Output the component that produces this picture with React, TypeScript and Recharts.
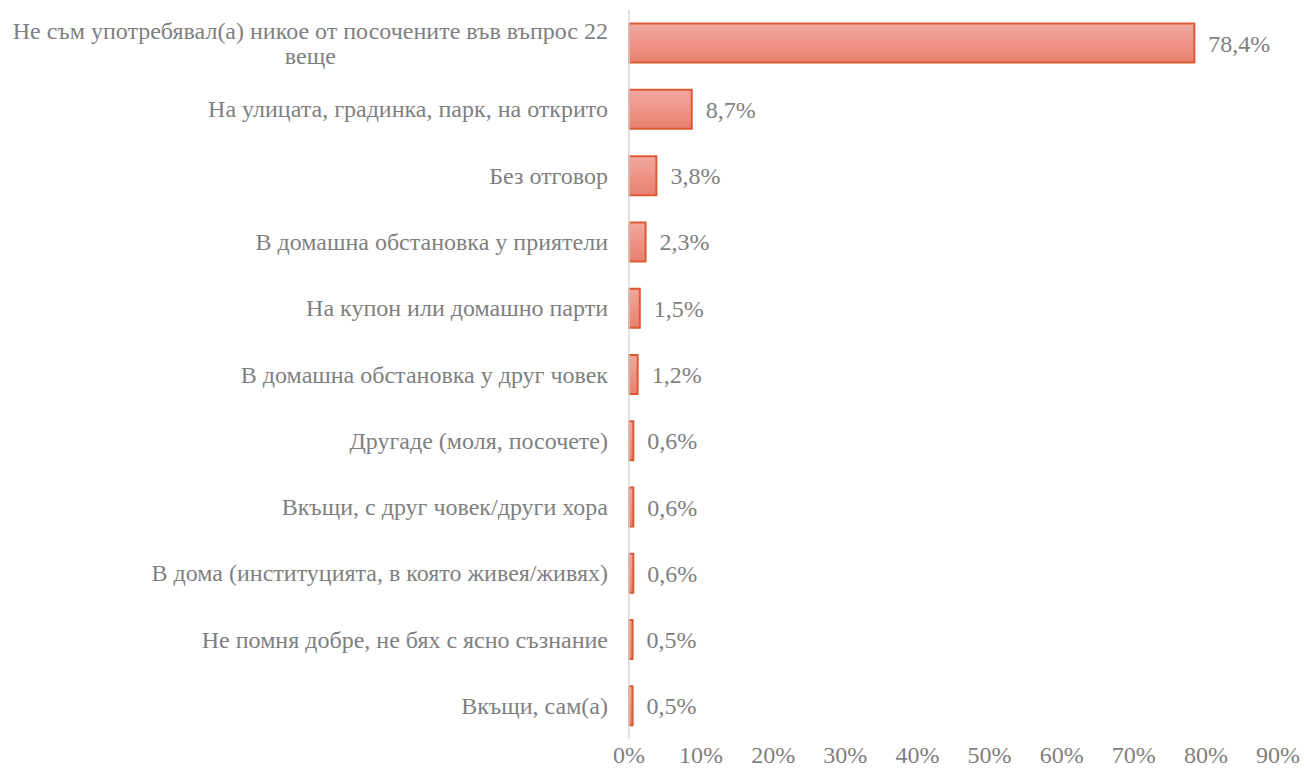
import React from "react";
import { BarChart, Bar, XAxis, YAxis, LabelList } from "recharts";

const categories = [
  "Не съм употребявал(а) никое от посочените във въпрос 22 веще",
  "На улицата, градинка, парк, на открито",
  "Без отговор",
  "В домашна обстановка у приятели",
  "На купон или домашно парти",
  "В домашна обстановка у друг човек",
  "Другаде (моля, посочете)",
  "Вкъщи, с друг човек/други хора",
  "В дома (институцията, в която живея/живях)",
  "Не помня добре, не бях с ясно съзнание",
  "Вкъщи, сам(а)",
];
const values = [78.4, 8.7, 3.8, 2.3, 1.5, 1.2, 0.6, 0.6, 0.6, 0.5, 0.5];
const xTicks = [0, 10, 20, 30, 40, 50, 60, 70, 80, 90];

const data = categories.map((name, i) => ({ name, value: values[i] }));

const FONT = "'Liberation Serif', 'Times New Roman', serif";
const GREY = "#7f7f7f";
const FS = 24;

let ctx: CanvasRenderingContext2D | null = null;
function measure(t: string) {
  if (!ctx) ctx = document.createElement("canvas").getContext("2d");
  if (!ctx) return t.length * 11;
  ctx.font = `${FS}px ${FONT}`;
  return ctx.measureText(t).width;
}

function wrap(text: string, maxW: number) {
  const words = text.split(" ");
  const lines: string[] = [];
  let cur = "";
  for (const w of words) {
    const next = cur ? cur + " " + w : w;
    if (measure(next) > maxW && cur) {
      lines.push(cur);
      cur = w;
    } else cur = next;
  }
  if (cur) lines.push(cur);
  return lines;
}

const CatTick = (props: any) => {
  const { x, y, payload } = props;
  const lines = wrap(payload.value, 615);
  if (lines.length === 1) {
    return (
      <text x={x - 13} y={y} dy={8} textAnchor="end" fill={GREY} fontSize={FS} fontFamily={FONT}>
        {lines[0]}
      </text>
    );
  }
  const w = Math.max(...lines.map(measure));
  const cx = x - 13 - w / 2;
  const lh = 25;
  const y0 = y - ((lines.length - 1) * lh) / 2;
  return (
    <text textAnchor="middle" fill={GREY} fontSize={FS} fontFamily={FONT}>
      {lines.map((l, i) => (
        <tspan key={i} x={cx} y={y0 + i * lh} dy={8}>
          {l}
        </tspan>
      ))}
    </text>
  );
};

export default function App() {
  return (
    <div style={{ position: "absolute", left: 0, top: 0, width: 1304, height: 774, background: "#fff" }}>
      <BarChart
        width={1304}
        height={774}
        data={data}
        layout="vertical"
        margin={{ top: 10, right: 26, bottom: 5, left: 0 }}
        barCategoryGap="20.5%"
      >
        <defs>
          <linearGradient id="barGrad" x1="0" y1="0" x2="0" y2="1">
            <stop offset="0%" stopColor="#f2a89f" />
            <stop offset="100%" stopColor="#e9806f" />
          </linearGradient>
        </defs>
        <XAxis
          type="number"
          domain={[0, 90]}
          ticks={xTicks}
          tickFormatter={(v: number) => `${v}%`}
          axisLine={false}
          tickLine={false}
          tick={{ fill: GREY, fontSize: FS, fontFamily: FONT }}
          tickMargin={1}
          height={30}
          interval={0}
        />
        <YAxis
          type="category"
          dataKey="name"
          width={629}
          axisLine={{ stroke: "#d9d9d9", strokeWidth: 1.5 }}
          tickLine={false}
          tick={<CatTick />}
          interval={0}
        />
        <Bar dataKey="value" fill="url(#barGrad)" stroke="#dc5a32" strokeWidth={2} isAnimationActive={false}>
          <LabelList
            dataKey="value"
            position="right"
            offset={14}
            formatter={(v: any) => `${String(v).replace(".", ",")}%`}
            style={{ fill: GREY, fontSize: FS, fontFamily: FONT }}
          />
        </Bar>
      </BarChart>
    </div>
  );
}
